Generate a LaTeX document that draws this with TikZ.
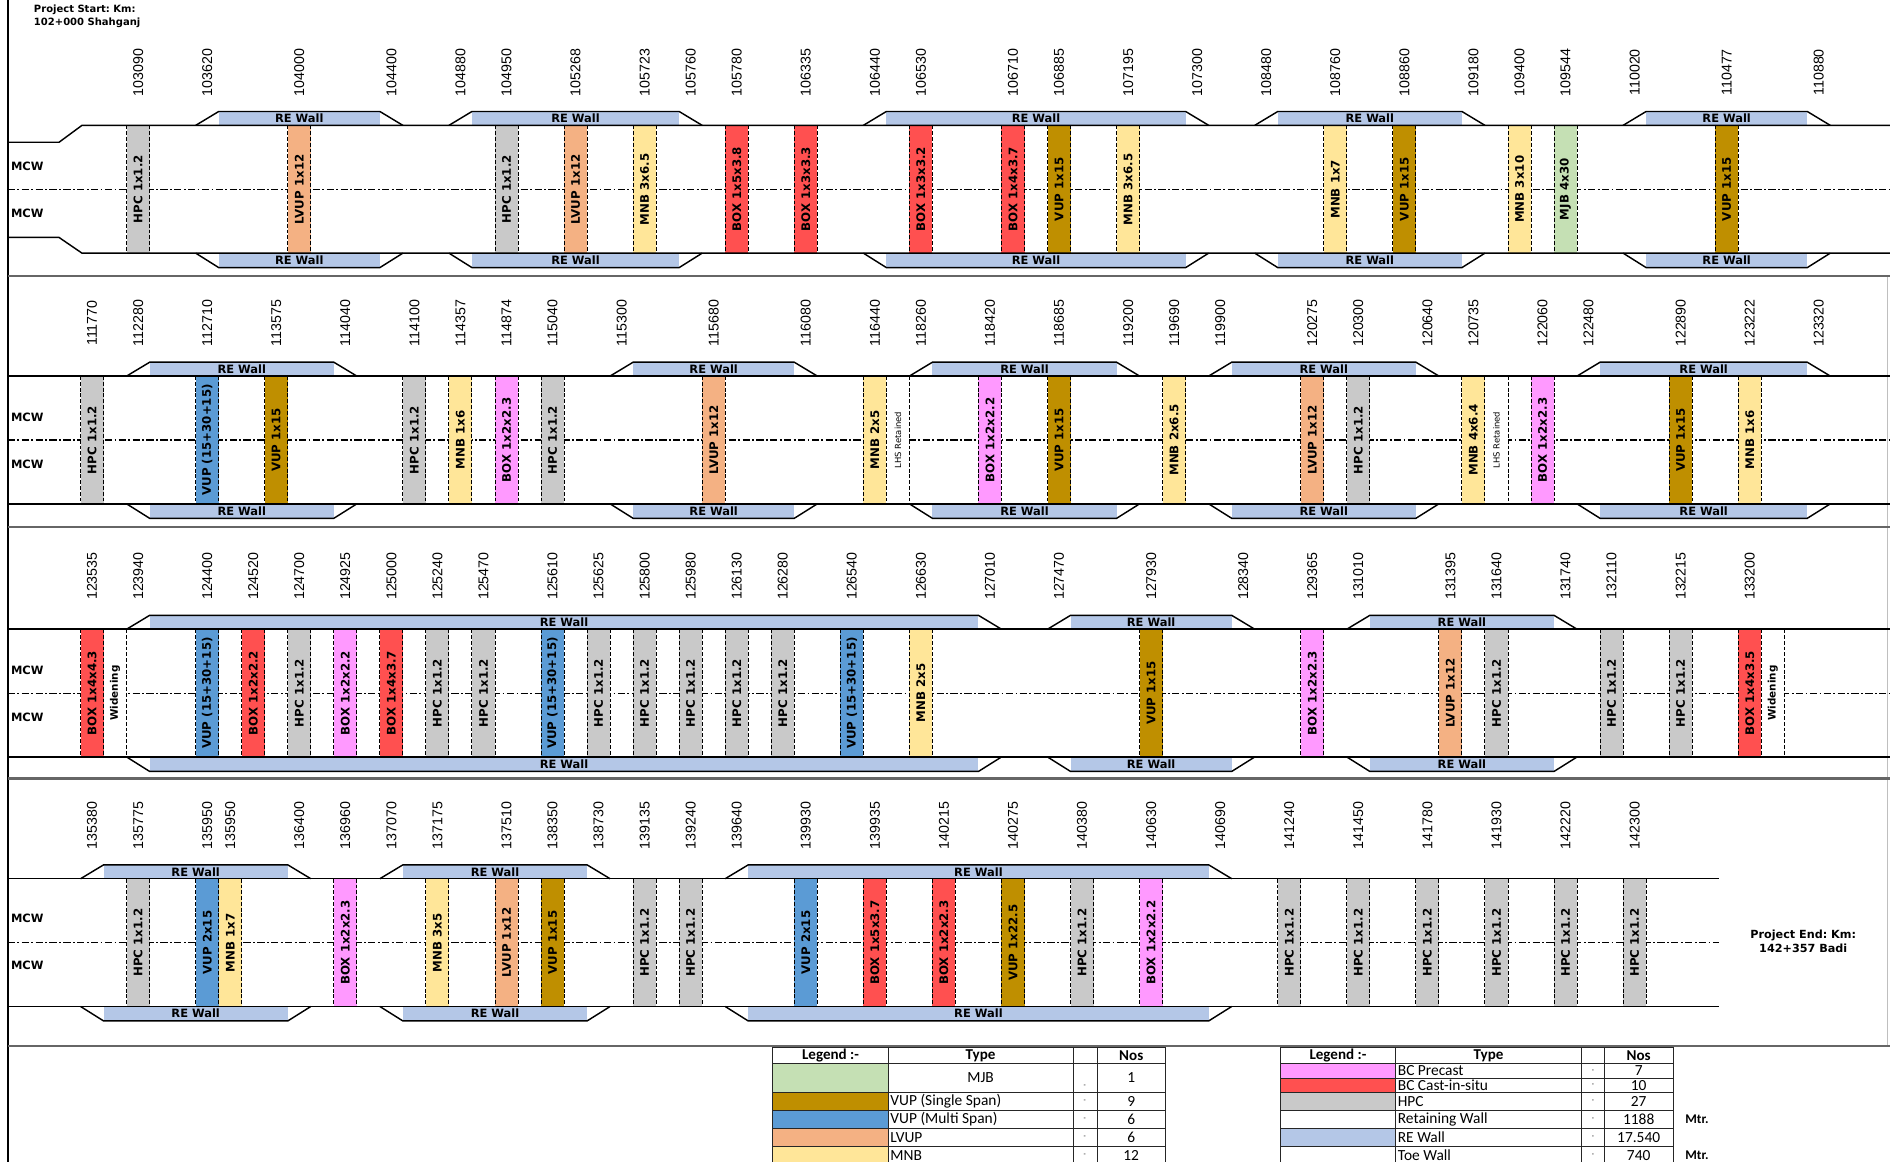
\documentclass[tikz,border=0pt]{standalone}
\usepackage{fontspec}
\setmainfont{Liberation Sans}
\newfontfamily\vfont{DejaVu Sans}
\newfontfamily\cfont{Carlito}
\usetikzlibrary{positioning, calc}
\frenchspacing

\definecolor{hpc}{HTML}{C9C9C9}
\definecolor{lvup}{HTML}{F4B183}
\definecolor{mnb}{HTML}{FFE699}
\definecolor{boxc}{HTML}{FF5050}
\definecolor{boxp}{HTML}{FF99FF}
\definecolor{vups}{HTML}{BF8F00}
\definecolor{vupm}{HTML}{5B9BD5}
\definecolor{mjb}{HTML}{C5E0B4}
\definecolor{rew}{HTML}{B4C7E7}

% chainage labels of one strip
\newcommand{\chains}[2]{%
  \foreach \c/\t in {#2}
    \node[chain] (k#1-\c) at (\c*\colw,60) {\t};}
% coloured structure columns
\newcommand{\culverts}[2]{%
  \foreach \c/\col/\t in {#2} {
    \fill[fill=\col] ({(\c-0.5)*\colw},\rtop) rectangle ({(\c+0.5)*\colw},\rbot);
    \draw[edge] ({(\c-0.5)*\colw},\rtop) -- ({(\c-0.5)*\colw},\rbot);
    \draw[edge] ({(\c+0.5)*\colw},\rtop) -- ({(\c+0.5)*\colw},\rbot);
    \node[struct] (s#1-\c) at (\c*\colw,\rmid) {\t};
  }}
% white columns with a remark
\newcommand{\notes}[3]{%
  \foreach \c/\t in {#3} {
    \fill[white] ({(\c-0.5)*\colw},\rtop) rectangle ({(\c+0.5)*\colw},\rbot);
    \draw[edge] ({(\c-0.5)*\colw},\rtop) -- ({(\c-0.5)*\colw},\rbot);
    \draw[edge] ({(\c+0.5)*\colw},\rtop) -- ({(\c+0.5)*\colw},\rbot);
    \node[#2] (n#1-\c) at (\c*\colw,\rmid) {\t};
  }}
% RE walls on both sides
\newcommand{\walls}[2]{%
  \foreach \a/\b [count=\k] in {#2} {
    \fill[rew] ({(\a+0.5)*\colw},\wtop) rectangle ({(\b-0.5)*\colw},\rtop);
    \fill[rew] ({(\a+0.5)*\colw},\rbot) rectangle ({(\b-0.5)*\colw},\wbot);
    \draw[road] ({(\a-0.5)*\colw},\rtop) -- ({(\a+0.5)*\colw},\wtop) -- ({(\b-0.5)*\colw},\wtop) -- ({(\b+0.5)*\colw},\rtop);
    \draw[road] ({(\a-0.5)*\colw},\rbot) -- ({(\a+0.5)*\colw},\wbot) -- ({(\b-0.5)*\colw},\wbot) -- ({(\b+0.5)*\colw},\rbot);
    \node[wall] (wt#1-\k) at ({(\a+\b)/2*\colw},{(\wtop+\rtop)/2}) {RE Wall};
    \node[wall] (wb#1-\k) at ({(\a+\b)/2*\colw},{(\wbot+\rbot)/2}) {RE Wall};
  }}

\begin{document}
\begin{tikzpicture}[x=1pt,y=-1pt]
    \tikzset{
      chain/.style={rotate=90, inner sep=0pt, font=\fontsize{11.8}{12}\selectfont},
      struct/.style={rotate=90, inner sep=0pt, font=\vfont\bfseries\fontsize{9.8}{10}\selectfont},
      lhs/.style={rotate=90, inner sep=0pt, font=\vfont\fontsize{7}{8}\selectfont},
      widen/.style={rotate=90, inner sep=0pt, font=\vfont\bfseries\fontsize{8.6}{9}\selectfont},
      wall/.style={inner sep=0pt, font=\vfont\bfseries\fontsize{9.5}{10}\selectfont},
      mcw/.style={anchor=west, inner sep=0pt, font=\vfont\bfseries\fontsize{9.5}{10}\selectfont},
      road/.style={line width=1.2pt},
      cline/.style={line width=0.9pt, dash pattern=on 6pt off 2pt on 1.5pt off 2pt},
      edge/.style={line width=0.8pt, dash pattern=on 3.2pt off 1.6pt},
      sep/.style={line width=2pt, black!60},
      grid/.style={line width=0.6pt, black!85},
      lhead/.style={inner sep=0pt, font=\cfont\bfseries\fontsize{12.5}{13}\selectfont},
      ltext/.style={inner sep=0pt, anchor=west, font=\cfont\fontsize{12.8}{13}\selectfont},
      lnum/.style={inner sep=0pt, font=\cfont\fontsize{12.8}{13}\selectfont},
      ldash/.style={inner sep=0pt, font=\cfont\fontsize{6}{6}\selectfont},
    }
    \def\colw{19.1}
    \def\wtop{92.5}
    \def\rtop{104}
    \def\rmid{157}
    \def\rbot{210}
    \def\wbot{222}
    \useasboundingbox (0,0) rectangle (1568,964);

    % frame and strip separators
    \draw[line width=1.5pt] (6.5,0) -- (6.5,964);
    \draw[black!25, line width=0.6pt] (1566,229) -- (1566,868);
    \foreach \y in {229,437,646,868}
      \draw[sep] (6.5,\y) -- (1568,\y);

    \node[anchor=north west, align=left, inner sep=0pt, font=\vfont\bfseries\fontsize{8.3}{11}\selectfont] (pstart) at (28,4) {Project Start: Km:\\102+000 Shahganj};

    % strip 1
    \draw[cline] (6.5,\rmid) -- (1568,\rmid);
    \culverts{1}{6/hpc/HPC 1x1.2, 13/lvup/LVUP 1x12, 22/hpc/HPC 1x1.2, 25/lvup/LVUP 1x12, 28/mnb/MNB 3x6.5, 32/boxc/BOX 1x5x3.8, 35/boxc/BOX 1x3x3.3, 40/boxc/BOX 1x3x3.2, 44/boxc/BOX 1x4x3.7, 46/vups/VUP 1x15, 49/mnb/MNB 3x6.5, 58/mnb/MNB 1x7, 61/vups/VUP 1x15, 66/mnb/MNB 3x10, 68/mjb/MJB 4x30, 75/vups/VUP 1x15}
    \walls{1}{9/17, 20/30, 38/52, 55/64, 71/79}
    \draw[road] (6.5,118) -- (49,118) -- (68,\rtop) -- (1568,\rtop);
    \draw[road] (6.5,197) -- (49,197) -- (68,\rbot) -- (1568,\rbot);
    \node[mcw] (m1a) at (9,138) {MCW};
    \node[mcw] (m1b) at (9,177) {MCW};
    \chains{1}{6/103090, 9/103620, 13/104000, 17/104400, 20/104880, 22/104950, 25/105268, 28/105723, 30/105760, 32/105780, 35/106335, 38/106440, 40/106530, 44/106710, 46/106885, 49/107195, 52/107300, 55/108480, 58/108760, 61/108860, 64/109180, 66/109400, 68/109544, 71/110020, 75/110477, 79/110880}

    % strip 2
    \begin{scope}[yshift=-208pt]
      \draw[cline] (6.5,\rmid) -- (1568,\rmid);
      \culverts{2}{4/hpc/HPC 1x1.2, 9/vupm/VUP (15+30+15), 12/vups/VUP 1x15, 18/hpc/HPC 1x1.2, 20/mnb/MNB 1x6, 22/boxp/BOX 1x2x2.3, 24/hpc/HPC 1x1.2, 31/lvup/LVUP 1x12, 38/mnb/MNB 2x5, 43/boxp/BOX 1x2x2.2, 46/vups/VUP 1x15, 51/mnb/MNB 2x6.5, 57/lvup/LVUP 1x12, 59/hpc/HPC 1x1.2, 64/mnb/MNB 4x6.4, 67/boxp/BOX 1x2x2.3, 73/vups/VUP 1x15, 76/mnb/MNB 1x6}
      \notes{2}{lhs}{39/LHS Retained, 65/LHS Retained}
      \walls{2}{6/15, 27/35, 40/49, 53/62, 69/79}
      \draw[road] (6.5,\rtop) -- (1568,\rtop);
      \draw[road] (6.5,\rbot) -- (1568,\rbot);
      \node[mcw] (m2a) at (9,138) {MCW};
      \node[mcw] (m2b) at (9,177) {MCW};
      \chains{2}{4/111770, 6/112280, 9/112710, 12/113575, 15/114040, 18/114100, 20/114357, 22/114874, 24/115040, 27/115300, 31/115680, 35/116080, 38/116440, 40/118260, 43/118420, 46/118685, 49/119200, 51/119690, 53/119900, 57/120275, 59/120300, 62/120640, 64/120735, 67/122060, 69/122480, 73/122890, 76/123222, 79/123320}
    \end{scope}

    % strip 3
    \begin{scope}[yshift=-418pt]
      \draw[cline] (6.5,\rmid) -- (1568,\rmid);
      \culverts{3}{4/boxc/BOX 1x4x4.3, 9/vupm/VUP (15+30+15), 11/boxc/BOX 1x2x2.2, 13/hpc/HPC 1x1.2, 15/boxp/BOX 1x2x2.2, 17/boxc/BOX 1x4x3.7, 19/hpc/HPC 1x1.2, 21/hpc/HPC 1x1.2, 24/vupm/VUP (15+30+15), 26/hpc/HPC 1x1.2, 28/hpc/HPC 1x1.2, 30/hpc/HPC 1x1.2, 32/hpc/HPC 1x1.2, 34/hpc/HPC 1x1.2, 37/vupm/VUP (15+30+15), 40/mnb/MNB 2x5, 50/vups/VUP 1x15, 57/boxp/BOX 1x2x2.3, 63/lvup/LVUP 1x12, 65/hpc/HPC 1x1.2, 70/hpc/HPC 1x1.2, 73/hpc/HPC 1x1.2, 76/boxc/BOX 1x4x3.5}
      \notes{3}{widen}{5/Widening, 77/Widening}
      \walls{3}{6/43, 46/54, 59/68}
      \draw[road] (6.5,\rtop) -- (1568,\rtop);
      \draw[road] (6.5,\rbot) -- (1568,\rbot);
      \node[mcw] (m3a) at (9,138) {MCW};
      \node[mcw] (m3b) at (9,177) {MCW};
      \chains{3}{4/123535, 6/123940, 9/124400, 11/124520, 13/124700, 15/124925, 17/125000, 19/125240, 21/125470, 24/125610, 26/125625, 28/125800, 30/125980, 32/126130, 34/126280, 37/126540, 40/126630, 43/127010, 46/127470, 50/127930, 54/128340, 57/129365, 59/131010, 63/131395, 65/131640, 68/131740, 70/132110, 73/132215, 76/133200}
    \end{scope}

    % strip 4
    \begin{scope}[yshift=-625pt]
      \draw[cline] (6.5,\rmid) -- (1426,\rmid);
      \culverts{4}{6/hpc/HPC 1x1.2, 9/vupm/VUP 2x15, 10/mnb/MNB 1x7, 15/boxp/BOX 1x2x2.3, 19/mnb/MNB 3x5, 22/lvup/LVUP 1x12, 24/vups/VUP 1x15, 28/hpc/HPC 1x1.2, 30/hpc/HPC 1x1.2, 35/vupm/VUP 2x15, 38/boxc/BOX 1x5x3.7, 41/boxc/BOX 1x2x2.3, 44/vups/VUP 1x22.5, 47/hpc/HPC 1x1.2, 50/boxp/BOX 1x2x2.2, 56/hpc/HPC 1x1.2, 59/hpc/HPC 1x1.2, 62/hpc/HPC 1x1.2, 65/hpc/HPC 1x1.2, 68/hpc/HPC 1x1.2, 71/hpc/HPC 1x1.2}
      \walls{4}{4/13, 17/26, 32/53}
      \draw[road] (6.5,\rtop) -- (1426,\rtop);
      \draw[road] (6.5,\rbot) -- (1426,\rbot);
      \node[mcw] (m4a) at (9,137) {MCW};
      \node[mcw] (m4b) at (9,176) {MCW};
      \chains{4}{4/135380, 6/135775, 9/135950, 10/135950, 13/136400, 15/136960, 17/137070, 19/137175, 22/137510, 24/138350, 26/138730, 28/139135, 30/139240, 32/139640, 35/139930, 38/139935, 41/140215, 44/140275, 47/140380, 50/140630, 53/140690, 56/141240, 59/141450, 62/141780, 65/141930, 68/142220, 71/142300}
      \node[align=center, inner sep=0pt, font=\vfont\bfseries\fontsize{9.3}{11.5}\selectfont] (pend) at (1496,156) {Project End: Km:\\142+357 Badi};
    \end{scope}

    % legend, left table
    \fill[mjb] (641,882) rectangle (737,906.5);
    \fill[vups] (641,906.5) rectangle (737,921);
    \fill[vupm] (641,921) rectangle (737,936);
    \fill[lvup] (641,936) rectangle (737,951);
    \fill[mnb] (641,951) rectangle (737,966);
    \foreach \y in {869,882,906.5,921,936,951}
      \draw[grid] (641,\y) -- (967,\y);
    \foreach \x in {641,737,890.5,910,967}
      \draw[grid] (\x,869) -- (\x,966);
    \node[lhead] (la1) at (689,875.5) {Legend :-};
    \node[lhead] (la2) at (813.5,875.5) {Type};
    \node[lhead] (la3) at (938.5,875.5) {Nos};
    \node[lnum] (lt0) at (813.5,894) {MJB};
    \node[lnum] (ln0) at (938.5,894) {1};
    \node[ldash] (ld0) at (900,901.5) {-};
    \foreach \y/\t/\n [count=\k] in {913.7/VUP (Single Span)/9, 928.5/VUP (Multi Span)/6, 943.5/LVUP/6, 958.5/MNB/12} {
      \node[ltext] (lt\k) at (738.5,\y) {\t};
      \node[lnum] (ln\k) at (938.5,\y) {\n};
      \node[ldash] (ld\k) at (900,\y) {-};
    }

    % legend, right table
    \fill[boxp] (1062,882) rectangle (1158,895);
    \fill[boxc] (1062,895) rectangle (1158,906.5);
    \fill[hpc] (1062,906.5) rectangle (1158,921);
    \fill[rew] (1062,936) rectangle (1158,951);
    \foreach \y in {869,882,895,906.5,921,936,951}
      \draw[grid] (1062,\y) -- (1388,\y);
    \foreach \x in {1062,1158,1312,1331,1388}
      \draw[grid] (\x,869) -- (\x,966);
    \node[lhead] (ra1) at (1110,875.5) {Legend :-};
    \node[lhead] (ra2) at (1235,875.5) {Type};
    \node[lhead] (ra3) at (1359.5,875.5) {Nos};
    \foreach \y/\t/\n [count=\k] in {888.5/BC Precast/7, 900.7/BC Cast-in-situ/10, 913.7/HPC/27, 928.5/Retaining Wall/1188, 943.5/RE Wall/17.540, 958.5/Toe Wall/740} {
      \node[ltext] (rt\k) at (1159.5,\y) {\t};
      \node[lnum] (rn\k) at (1359.5,\y) {\n};
      \node[ldash] (rd\k) at (1321.5,\y) {-};
    }
    \node[ltext, font=\cfont\bfseries\fontsize{11}{12}\selectfont] (mtr1) at (1398,928.5) {Mtr.};
    \node[ltext, font=\cfont\bfseries\fontsize{11}{12}\selectfont] (mtr2) at (1398,958.5) {Mtr.};
\end{tikzpicture}
\end{document}
